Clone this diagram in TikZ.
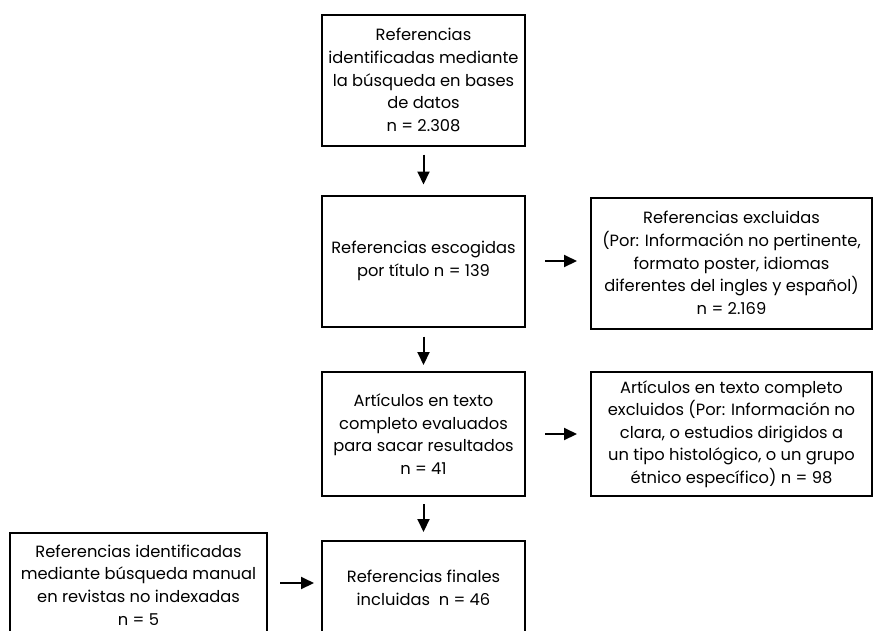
\documentclass[tikz,border=0pt]{standalone}
\usepackage{fontspec}
\setmainfont{Poppins}
\usetikzlibrary{arrows.meta}
\begin{document}
\begin{tikzpicture}[x=1pt,y=-1pt,
  box/.style={draw, line width=2pt, align=center, inner sep=0pt,
    font=\fontsize{16.3}{22.6}\selectfont},
  arr/.style={line width=2pt, -{Triangle[length=13pt,width=12pt]}}]
\clip (0,0) rectangle (874,630);
\fill[white] (0,0) rectangle (874,630);
\node[box, minimum width=203pt, minimum height=131pt] (b1) at (423.5,80)
  {Referencias\\identificadas mediante\\la búsqueda en bases\\de datos\\n = 2.308};
\node[box, minimum width=203pt, minimum height=131pt] (b2) at (423.5,261)
  {Referencias escogidas\\por título n = 139};
\node[box, minimum width=281pt, minimum height=131pt] (b3) at (731.5,263)
  {Referencias excluidas\\(Por: Información no pertinente,\\formato poster, idiomas\\diferentes del ingles y español)\\n = 2.169};
\node[box, minimum width=203pt, minimum height=124pt] (b4) at (423.5,434)
  {Artículos en texto\\completo evaluados\\para sacar resultados\\n = 41};
\node[box, minimum width=281pt, minimum height=124pt] (b5) at (731.5,434)
  {Artículos en texto completo\\excluidos (Por: Información no\\clara, o estudios dirigidos a\\un tipo histológico, o un grupo\\étnico específico) n = 98};
\node[box, minimum width=203pt, minimum height=94pt] (b6) at (423.5,588)
  {Referencias finales\\incluidas\ \ n = 46};
\node[box, minimum width=257pt, minimum height=104pt] (b7) at (138.5,585)
  {Referencias identificadas\\mediante búsqueda manual\\en revistas no indexadas\\n = 5};
\draw[arr, shorten <=8pt, shorten >=10pt] (b1.south) -- (b2.north);
\draw[arr, shorten <=9pt, shorten >=6pt] (b2.south) -- (b4.north);
\draw[arr, shorten <=7pt, shorten >=8pt] (b4.south) -- (b6.north);
\draw[arr, shorten <=19pt, shorten >=13pt] (b2.east) -- (b2.east -| b3.west);
\draw[arr, shorten <=19pt, shorten >=13pt] (b4.east) -- (b5.west);
\draw[arr, shorten <=12pt, shorten >=7pt] (b7.east |- 0,583) -- (b6.west |- 0,583);
\end{tikzpicture}
\end{document}
